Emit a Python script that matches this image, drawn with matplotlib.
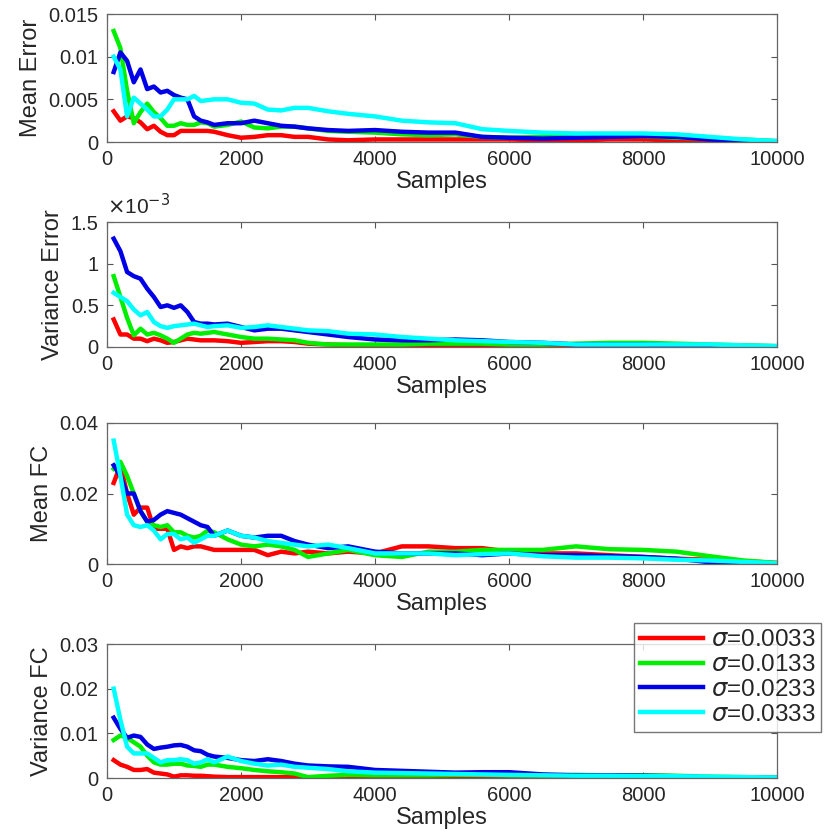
import numpy as np
import matplotlib.pyplot as plt

plt.rcParams['font.family'] = ['Liberation Sans', 'DejaVu Sans']
plt.rcParams['mathtext.fontset'] = 'dejavusans'

samples = [100, 200, 300, 400, 500, 600, 700, 800, 900, 1000, 1100, 1200, 1300,
           1400, 1500, 1600, 1800, 2000, 2200, 2400, 2600, 2800, 3000, 3300,
           3600, 4000, 4400, 4800, 5200, 5600, 6000, 6500, 7000, 7500, 8000,
           8500, 9000, 9500, 10000]

sigmas = ['0.0033', '0.0133', '0.0233', '0.0333']
colors = ['#ff0000', '#00ee00', '#0000e6', '#00ffff']

# ---------- Mean Error ----------
me_red = [0.0036, 0.0025, 0.003, 0.0028, 0.0023, 0.0015, 0.0019, 0.0012, 0.0008, 0.0008,
          0.0013, 0.0013, 0.0013, 0.0013, 0.0013, 0.0012, 0.0008, 0.0005, 0.0006, 0.0008,
          0.0008, 0.0006, 0.0006, 0.0003, 0.0002, 0.0003, 0.0003, 0.0003, 0.0003, 0.0003,
          0.0003, 0.0002, 0.0002, 0.0003, 0.0003, 0.0002, 0.0002, 0.0001, 0.0]
me_green = [0.013, 0.011, 0.006, 0.0022, 0.0035, 0.0045, 0.0035, 0.0028, 0.0019, 0.0019,
            0.0022, 0.002, 0.002, 0.0023, 0.0022, 0.0018, 0.002, 0.0024, 0.0017, 0.0016,
            0.0018, 0.0018, 0.0016, 0.0013, 0.0012, 0.0011, 0.0009, 0.0008, 0.0009, 0.0006,
            0.0005, 0.0006, 0.0007, 0.0007, 0.0007, 0.0005, 0.0004, 0.0003, 0.0001]
me_blue = [0.0082, 0.0105, 0.0095, 0.007, 0.0085, 0.0062, 0.0065, 0.0058, 0.006, 0.0055,
           0.0052, 0.005, 0.003, 0.0025, 0.0023, 0.002, 0.0022, 0.0022, 0.0025, 0.0022,
           0.0019, 0.0018, 0.0016, 0.0014, 0.0013, 0.0014, 0.0012, 0.0011, 0.0011, 0.0006,
           0.0005, 0.0004, 0.0005, 0.0006, 0.0007, 0.0006, 0.0003, 0.0001, 0.0001]
me_cyan = [0.01, 0.0085, 0.003, 0.0052, 0.0045, 0.0038, 0.003, 0.003, 0.0038, 0.005,
           0.005, 0.005, 0.0054, 0.0048, 0.0049, 0.005, 0.005, 0.0046, 0.0045, 0.0038,
           0.0037, 0.004, 0.004, 0.0036, 0.0033, 0.003, 0.0025, 0.0023, 0.0022, 0.0015,
           0.0013, 0.0011, 0.001, 0.001, 0.001, 0.0009, 0.0006, 0.0003, 0.0001]

# ---------- Variance Error (x 1e-3) ----------
ve_red = [0.33, 0.15, 0.15, 0.1, 0.1, 0.07, 0.1, 0.08, 0.05, 0.06, 0.08, 0.1, 0.09,
          0.08, 0.08, 0.08, 0.07, 0.05, 0.06, 0.07, 0.07, 0.06, 0.04, 0.03, 0.02, 0.02,
          0.02, 0.01, 0.01, 0.01, 0.01, 0.01, 0.01, 0.01, 0.01, 0.01, 0.01, 0.0, 0.0]
ve_green = [0.85, 0.6, 0.35, 0.14, 0.22, 0.15, 0.17, 0.14, 0.1, 0.05, 0.1, 0.15, 0.17,
            0.16, 0.17, 0.18, 0.15, 0.12, 0.1, 0.1, 0.09, 0.08, 0.05, 0.03, 0.03, 0.03,
            0.03, 0.04, 0.04, 0.04, 0.03, 0.03, 0.04, 0.05, 0.05, 0.04, 0.03, 0.02, 0.01]
ve_blue = [1.3, 1.15, 0.9, 0.85, 0.82, 0.7, 0.6, 0.48, 0.5, 0.47, 0.5, 0.42, 0.3,
           0.28, 0.28, 0.27, 0.28, 0.24, 0.2, 0.22, 0.22, 0.2, 0.18, 0.15, 0.12, 0.09,
           0.08, 0.08, 0.09, 0.08, 0.06, 0.05, 0.03, 0.03, 0.03, 0.02, 0.02, 0.01, 0.01]
ve_cyan = [0.65, 0.6, 0.55, 0.45, 0.38, 0.42, 0.3, 0.25, 0.23, 0.25, 0.26, 0.27, 0.28,
           0.26, 0.24, 0.25, 0.26, 0.23, 0.24, 0.26, 0.24, 0.22, 0.2, 0.19, 0.16, 0.15,
           0.12, 0.1, 0.08, 0.07, 0.06, 0.05, 0.03, 0.03, 0.03, 0.03, 0.03, 0.02, 0.01]

# ---------- Mean FC ----------
mf_red = [0.023, 0.028, 0.02, 0.014, 0.016, 0.016, 0.01, 0.01, 0.01, 0.004, 0.005,
          0.0045, 0.005, 0.005, 0.0045, 0.004, 0.004, 0.004, 0.004, 0.0025, 0.0035,
          0.003, 0.0035, 0.003, 0.0035, 0.003, 0.005, 0.005, 0.0045, 0.0045, 0.0035,
          0.003, 0.003, 0.0025, 0.002, 0.0015, 0.0012, 0.0008, 0.0003]
mf_green = [0.027, 0.029, 0.025, 0.02, 0.015, 0.012, 0.011, 0.0105, 0.011, 0.009, 0.009,
            0.008, 0.0075, 0.008, 0.0095, 0.009, 0.007, 0.0055, 0.005, 0.0055, 0.005,
            0.004, 0.002, 0.003, 0.004, 0.0025, 0.002, 0.0035, 0.0035, 0.004, 0.004,
            0.004, 0.005, 0.0042, 0.004, 0.0035, 0.0022, 0.001, 0.0003]
mf_blue = [0.028, 0.025, 0.02, 0.02, 0.015, 0.012, 0.0125, 0.014, 0.015, 0.0145, 0.014,
           0.013, 0.012, 0.011, 0.0105, 0.008, 0.0095, 0.008, 0.0075, 0.008, 0.008,
           0.0065, 0.0055, 0.0045, 0.005, 0.0035, 0.003, 0.003, 0.003, 0.0025, 0.003,
           0.0025, 0.0025, 0.0022, 0.002, 0.0015, 0.0005, 0.0003, 0.0]
mf_cyan = [0.035, 0.025, 0.014, 0.011, 0.0105, 0.011, 0.0095, 0.007, 0.0085, 0.0085,
           0.007, 0.0075, 0.006, 0.007, 0.008, 0.008, 0.0095, 0.008, 0.0075, 0.0065,
           0.006, 0.0055, 0.005, 0.0055, 0.0045, 0.003, 0.003, 0.003, 0.0025, 0.0028,
           0.003, 0.0022, 0.0018, 0.0018, 0.0016, 0.0012, 0.001, 0.0006, 0.0002]

# ---------- Variance FC ----------
vf_red = [0.004, 0.003, 0.0025, 0.0018, 0.0018, 0.002, 0.0012, 0.001, 0.0008, 0.0003,
          0.0006, 0.0006, 0.0005, 0.0005, 0.0004, 0.0003, 0.0002, 0.0002, 0.0002, 0.0002,
          0.0002, 0.0002, 0.0001, 0.0001, 0.0001, 0.0001, 0.0001, 0.0001, 0.0001, 0.0001,
          0.0001, 0.0001, 0.0001, 0.0001, 0.0001, 0.0001, 0.0001, 0.0, 0.0]
vf_green = [0.0085, 0.0095, 0.009, 0.008, 0.007, 0.005, 0.0035, 0.003, 0.003, 0.0032,
            0.0032, 0.0028, 0.0027, 0.0025, 0.003, 0.003, 0.0025, 0.0022, 0.0018, 0.0015,
            0.0013, 0.001, 0.0002, 0.0005, 0.0007, 0.0006, 0.0006, 0.0006, 0.0007, 0.0007,
            0.0006, 0.0006, 0.0007, 0.0006, 0.0006, 0.0005, 0.0003, 0.0002, 0.0001]
vf_blue = [0.0135, 0.011, 0.009, 0.0095, 0.0092, 0.0075, 0.0065, 0.0068, 0.007, 0.0073,
           0.0074, 0.007, 0.0062, 0.006, 0.0052, 0.0048, 0.0045, 0.004, 0.0038, 0.0042,
           0.0038, 0.0032, 0.0028, 0.0026, 0.0025, 0.0018, 0.0016, 0.0014, 0.0012, 0.0013,
           0.0013, 0.0008, 0.0006, 0.0006, 0.0005, 0.0004, 0.0001, 0.0001, 0.0]
vf_cyan = [0.02, 0.013, 0.007, 0.0055, 0.0055, 0.0055, 0.0045, 0.0035, 0.004, 0.004,
           0.0042, 0.004, 0.0032, 0.0035, 0.0042, 0.0035, 0.0048, 0.0038, 0.0032, 0.0028,
           0.003, 0.0025, 0.0023, 0.002, 0.0015, 0.0012, 0.0011, 0.001, 0.0009, 0.0008,
           0.0007, 0.0006, 0.0005, 0.0005, 0.0004, 0.0004, 0.0003, 0.0002, 0.0001]

# ylabel, series, scale, y ticks, tick labels
panels = [
    ('Mean Error', [me_red, me_green, me_blue, me_cyan], 1.0,
     [0, 0.005, 0.01, 0.015], ['0', '0.005', '0.01', '0.015']),
    ('Variance Error', [ve_red, ve_green, ve_blue, ve_cyan], 1e-3,
     [0, 0.5e-3, 1e-3, 1.5e-3], ['0', '0.5', '1', '1.5']),
    ('Mean FC', [mf_red, mf_green, mf_blue, mf_cyan], 1.0,
     [0, 0.02, 0.04], ['0', '0.02', '0.04']),
    ('Variance FC', [vf_red, vf_green, vf_blue, vf_cyan], 1.0,
     [0, 0.01, 0.02, 0.03], ['0', '0.01', '0.02', '0.03']),
]

# axes boxes in pixels (left, top, right, bottom)
W, H = 830, 832
boxes = [(107, 14, 777, 142), (107, 222, 777, 347), (107, 423, 777, 564), (107, 644, 777, 778)]

fig = plt.figure(figsize=(8.3, 8.32), dpi=100)
txt = '#262626'
handles = []
for (ylab, series, scale, yticks, ylabels), (l, t, r, b) in zip(panels, boxes):
    ax = fig.add_axes([l / W, 1 - b / H, (r - l) / W, (b - t) / H])
    for s, c, sg in zip(series, colors, sigmas):
        h, = ax.plot(samples, np.array(s) * scale, color=c, lw=3.2,
                     label=r'$\sigma$=' + sg)
        if ylab == 'Variance FC':
            handles.append(h)
    ax.set_xlim(0, 10000)
    ax.set_ylim(0, yticks[-1])
    ax.set_xticks([0, 2000, 4000, 6000, 8000, 10000])
    ax.set_yticks(yticks)
    ax.set_yticklabels(ylabels)
    if ylab == 'Variance Error':
        ax.text(0.0, 1.03, r'$\times$10$^{-3}$', transform=ax.transAxes,
                fontsize=15, color=txt, ha='left', va='bottom')
    ax.tick_params(direction='in', top=True, right=True, labelsize=14.5,
                   colors='#555555', labelcolor=txt, length=4, pad=6)
    for sp in ax.spines.values():
        sp.set_color('#666666')
        sp.set_linewidth(0.9)
    ax.set_xlabel('Samples', fontsize=17, color=txt, labelpad=1)
    ax.set_ylabel(ylab, fontsize=17, color=txt, labelpad=5)

leg = fig.legend(handles=handles, loc='upper left', bbox_to_anchor=(634 / W, 1 - 623 / H),
                 fontsize=17.5, frameon=True, fancybox=False, handlelength=2.6,
                 borderaxespad=0, borderpad=0.25, labelspacing=0.12, handletextpad=0.3)
leg.get_frame().set_edgecolor('#555555')
leg.get_frame().set_linewidth(1.0)
for t in leg.get_texts():
    t.set_color(txt)

fig.savefig('out.png', dpi=100)
